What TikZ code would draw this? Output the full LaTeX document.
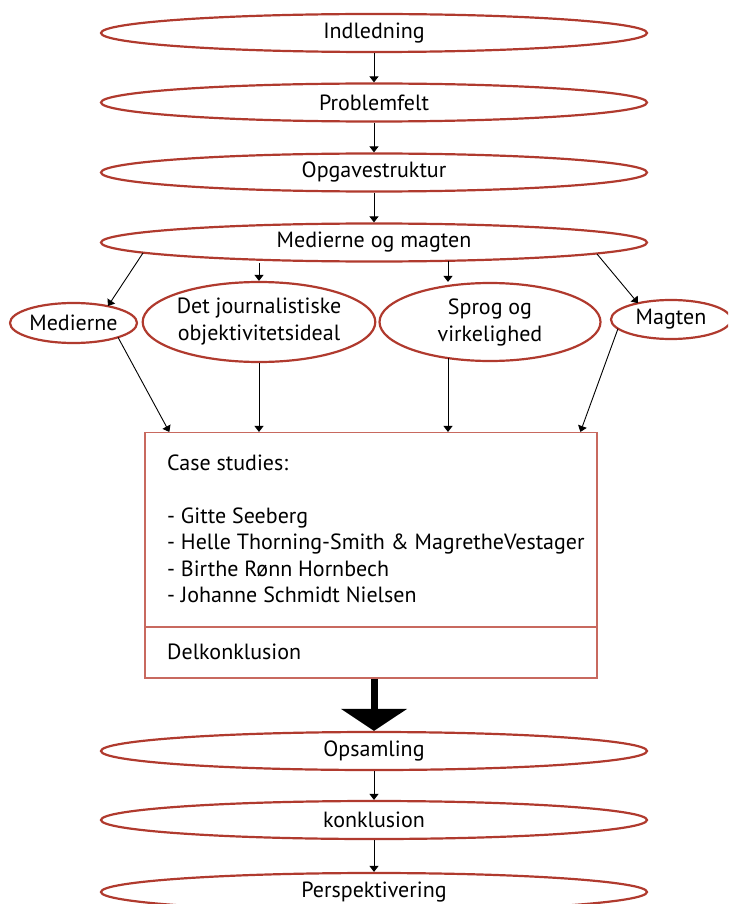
\documentclass[tikz,border=0pt]{standalone}
\usepackage{fontspec}
\setmainfont{PT Sans}
\usetikzlibrary{shapes.geometric,arrows.meta,calc}
\definecolor{ellred}{HTML}{B03A2E}
\definecolor{boxred}{HTML}{C8695F}
\begin{document}
\begin{tikzpicture}[x=1pt,y=1pt,
  bigell/.style={ellipse,draw=ellred,line width=2.2pt,minimum width=546pt,minimum height=38pt,inner sep=0pt,font=\fontsize{22}{27}\selectfont},
  smallell/.style={ellipse,draw=ellred,line width=2.2pt,inner sep=0pt,align=center,font=\fontsize{22}{27}\selectfont},
  arr/.style={line width=0.9pt,-{Triangle[width=9pt,length=6pt]}},
  boxtxt/.style={anchor=base west,inner sep=0pt,font=\fontsize{22}{27}\selectfont}]
\useasboundingbox (0,0) rectangle (728,-904);
\clip (0,0) rectangle (728,-904);
\node[bigell] (ind) at (374,-33) {Indledning};
\node[bigell] (prob) at (374,-102.5) {Problemfelt};
\node[bigell] (opg) at (374,-172.5) {Opgavestruktur};
\node[bigell] (mm) at (374,-242.5) {Medierne og magten};
\node[smallell,minimum width=127pt,minimum height=40pt] (med) at (73.5,-323) {Medierne};
\node[smallell,minimum width=222pt,minimum height=80pt] (dj) at (259,-322) {Det journalistiske\\objektivitetsideal};
\node[smallell,minimum width=221pt,minimum height=78pt] (sv) at (490,-322) {Sprog og\\virkelighed};
\node[smallell,minimum width=120pt,minimum height=39pt] (mag) at (671,-319.5) {Magten};
\node[draw=boxred,line width=1.2pt,minimum width=452pt,minimum height=245.5pt,inner sep=0pt] (box) at (371,-555.3) {};
\coordinate (divL) at (145,-627);
\draw[boxred,line width=1.2pt] (divL) -- (divL -| box.east);
\node[boxtxt] (cs) at (167,-470) {Case studies:};
\node[boxtxt] (l1) at (167,-523) {- Gitte Seeberg};
\node[boxtxt] (l2) at (167,-549.5) {- Helle Thorning-Smith \& MagretheVestager};
\node[boxtxt] (l3) at (167,-576) {- Birthe Rønn Hornbech};
\node[boxtxt] (l4) at (167,-602.5) {- Johanne Schmidt Nielsen};
\node[boxtxt] (dk) at (167,-659) {Delkonklusion};
\node[bigell] (ops) at (374,-751) {Opsamling};
\node[bigell] (kon) at (374,-820) {konklusion};
\node[bigell] (per) at (374,-892) {Perspektivering};
\draw[arr] (ind.south) -- (prob.north);
\draw[arr] (prob.south) -- (opg.north);
\draw[arr] (opg.south) -- (mm.north);
\draw[arr] ($(mm)+(-231,-10.5)$) -- ($(med)+(34.5,17)$);
\draw[arr] (dj.north |- mm.south) -- (dj.north);
\draw[arr] ($(mm)+(74,-18.3)$) coordinate (s3) -- (s3 |- sv.north);
\draw[arr] ($(mm)+(223,-11.5)$) -- ($(mag)+(-33,16.3)$);
\draw[arr] ($(med)+(44.5,-14.3)$) -- ($(box.north west)!0.055!(box.north east)$);
\draw[arr] (dj.south) -- (dj.south |- box.north);
\draw[arr] ($(sv)+(-42,-36.1)$) coordinate (s4) -- (s4 |- box.north);
\draw[arr] ($(mag)+(-53,-9.1)$) -- ($(box.north west)!0.962!(box.north east)$);
\draw[line width=7pt,-{Triangle[width=65pt,length=22pt]}] (box.south -| ops.north) -- (ops.north);
\draw[arr] (ops.south) -- (kon.north);
\draw[arr] (kon.south) -- (per.north);
\end{tikzpicture}
\end{document}
